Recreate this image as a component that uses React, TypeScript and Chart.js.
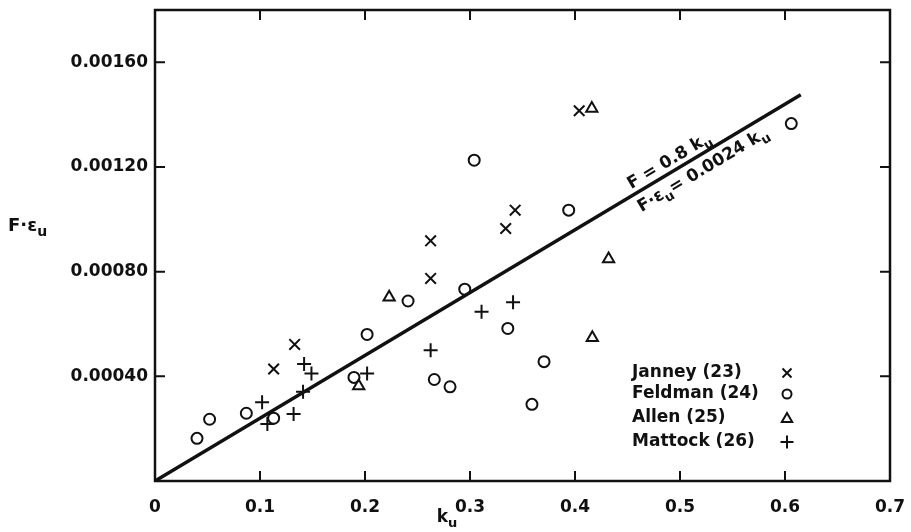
import React, { useEffect, useRef } from 'react';
import { Chart, registerables } from 'chart.js';

Chart.register(...registerables);

// ---- data ----
const xTickValues = [0, 0.1, 0.2, 0.3, 0.4, 0.5, 0.6, 0.7];
const yTickValues = [0.0004, 0.0008, 0.0012, 0.0016];

const janneyKu = [0.113, 0.133, 0.2625, 0.2625, 0.334, 0.343, 0.404];
const janneyFe = [0.000428, 0.000522, 0.000918, 0.000774, 0.000965, 0.001035, 0.001415];

const feldmanKu = [0.040, 0.052, 0.087, 0.113, 0.1895, 0.202, 0.241, 0.266, 0.281, 0.295, 0.304, 0.336, 0.359, 0.3705, 0.394, 0.606];
const feldmanFe = [0.000163, 0.000236, 0.000259, 0.000240, 0.000396, 0.000560, 0.000688, 0.000388, 0.000360, 0.000733, 0.001226, 0.000583, 0.000293, 0.000456, 0.001035, 0.001366];

const allenKu = [0.194, 0.223, 0.416, 0.4165, 0.432];
const allenFe = [0.000363, 0.000702, 0.001424, 0.000547, 0.000848];

const mattockKu = [0.102, 0.107, 0.132, 0.141, 0.142, 0.149, 0.202, 0.2625, 0.311, 0.341];
const mattockFe = [0.000301, 0.000218, 0.000256, 0.000341, 0.000447, 0.000411, 0.000411, 0.000500, 0.000647, 0.000683];

const lineKu = [0, 0.615];
const lineFe = [0, 0.001476];

const legendLabels = ['Janney (23)', 'Feldman (24)', 'Allen (25)', 'Mattock (26)'];
const legendStyles = ['crossRot', 'circle', 'triangle', 'cross'];

const FONT = '"DejaVu Sans", sans-serif';
const INK = '#111';

const pts = (xs: number[], ys: number[]) => xs.map((x, i) => ({ x, y: ys[i] }));

type Part = { t: string; sub?: boolean };

function drawRich(ctx: CanvasRenderingContext2D, parts: Part[], x: number, y: number, size: number, align: 'left' | 'center' = 'center') {
  const big = `bold ${size}px ${FONT}`;
  const small = `bold ${Math.round(size * 0.78)}px ${FONT}`;
  let w = 0;
  for (const p of parts) {
    ctx.font = p.sub ? small : big;
    w += ctx.measureText(p.t).width;
  }
  let cx = align === 'center' ? x - w / 2 : x;
  ctx.textAlign = 'left';
  ctx.textBaseline = 'alphabetic';
  for (const p of parts) {
    ctx.font = p.sub ? small : big;
    ctx.fillText(p.t, cx, y + (p.sub ? size * 0.3 : 0));
    cx += ctx.measureText(p.t).width;
  }
}

function drawMarker(ctx: CanvasRenderingContext2D, style: string, x: number, y: number) {
  ctx.beginPath();
  if (style === 'crossRot') {
    const r = 4.5;
    ctx.moveTo(x - r, y - r); ctx.lineTo(x + r, y + r);
    ctx.moveTo(x + r, y - r); ctx.lineTo(x - r, y + r);
  } else if (style === 'circle') {
    ctx.arc(x, y, 4.5, 0, Math.PI * 2);
  } else if (style === 'triangle') {
    ctx.moveTo(x, y - 5); ctx.lineTo(x + 5.2, y + 4); ctx.lineTo(x - 5.2, y + 4); ctx.closePath();
  } else {
    const r = 6.5;
    ctx.moveTo(x - r, y); ctx.lineTo(x + r, y);
    ctx.moveTo(x, y - r); ctx.lineTo(x, y + r);
  }
  ctx.stroke();
}

const framePlugin = {
  id: 'frameAndNotes',
  afterDraw(chart: any) {
    const { ctx, chartArea: a, scales } = chart;
    const xs = scales.x, ys = scales.y;
    ctx.save();
    ctx.strokeStyle = INK;
    ctx.fillStyle = INK;
    // frame
    ctx.lineWidth = 2.5;
    ctx.strokeRect(a.left, a.top, a.right - a.left, a.bottom - a.top);
    // inward ticks
    ctx.lineWidth = 2;
    const tl = 10;
    ctx.beginPath();
    for (const v of xTickValues) {
      if (v <= 0 || v >= 0.7) continue;
      const px = xs.getPixelForValue(v);
      ctx.moveTo(px, a.bottom); ctx.lineTo(px, a.bottom - tl);
      ctx.moveTo(px, a.top); ctx.lineTo(px, a.top + tl);
    }
    for (const v of yTickValues) {
      const py = ys.getPixelForValue(v);
      ctx.moveTo(a.left, py); ctx.lineTo(a.left + tl, py);
      ctx.moveTo(a.right, py); ctx.lineTo(a.right - tl, py);
    }
    ctx.stroke();

    // axis titles
    drawRich(ctx, [{ t: 'k' }, { t: 'u', sub: true }], 447, 522, 17);
    drawRich(ctx, [{ t: 'F·ε' }, { t: 'u', sub: true }], 8, 231, 18, 'left');

    // equation labels along the line
    const x0 = xs.getPixelForValue(lineKu[0]), y0 = ys.getPixelForValue(lineFe[0]);
    const x1 = xs.getPixelForValue(lineKu[1]), y1 = ys.getPixelForValue(lineFe[1]);
    const ang = Math.atan2(y1 - y0, x1 - x0);
    const onLine = (k: number) => {
      const t = (k - lineKu[0]) / (lineKu[1] - lineKu[0]);
      return [x0 + (x1 - x0) * t, y0 + (y1 - y0) * t];
    };
    let [ax, ay] = onLine(0.495);
    ctx.save();
    ctx.translate(ax, ay); ctx.rotate(ang);
    drawRich(ctx, [{ t: 'F = 0.8 k' }, { t: 'u', sub: true }], 0, -6, 17);
    ctx.restore();
    [ax, ay] = onLine(0.515);
    ctx.save();
    ctx.translate(ax, ay); ctx.rotate(ang);
    drawRich(ctx, [{ t: 'F·ε' }, { t: 'u', sub: true }, { t: '= 0.0024 k' }, { t: 'u', sub: true }], 0, 19, 17);
    ctx.restore();

    // legend
    const rowsY = [373, 394, 418, 442];
    ctx.lineWidth = 2;
    legendLabels.forEach((lab, i) => {
      ctx.font = `bold 17px ${FONT}`;
      ctx.textAlign = 'left';
      ctx.textBaseline = 'middle';
      ctx.fillText(lab, 632, rowsY[i]);
      drawMarker(ctx, legendStyles[i], 787, rowsY[i]);
    });
    ctx.restore();
  },
};

const noPad = (s: any) => { s.paddingLeft = 0; s.paddingRight = 0; s.paddingTop = 0; s.paddingBottom = 0; };

export default function App() {
  const ref = useRef<HTMLCanvasElement | null>(null);
  useEffect(() => {
    if (!ref.current) return;
    const common = { showLine: false, borderColor: INK, backgroundColor: 'rgba(0,0,0,0)', borderWidth: 2 };
    const chart = new Chart(ref.current, {
      type: 'scatter',
      data: {
        datasets: [
          { label: 'line', data: pts(lineKu, lineFe), showLine: true, borderColor: INK, borderWidth: 3.5, pointRadius: 0, fill: false } as any,
          { ...common, label: legendLabels[0], data: pts(janneyKu, janneyFe), pointStyle: 'crossRot', pointRadius: 7.5 },
          { ...common, label: legendLabels[1], data: pts(feldmanKu, feldmanFe), pointStyle: 'circle', pointRadius: 5.5 },
          { ...common, label: legendLabels[2], data: pts(allenKu, allenFe), pointStyle: 'triangle', pointRadius: 6.5 },
          { ...common, label: legendLabels[3], data: pts(mattockKu, mattockFe), pointStyle: 'cross', pointRadius: 7 },
        ],
      },
      options: {
        animation: false,
        responsive: true,
        maintainAspectRatio: false,
        layout: { padding: { left: 0, top: 10, right: 21, bottom: 0 } },
        plugins: { legend: { display: false }, tooltip: { enabled: false } },
        scales: {
          x: {
            type: 'linear', min: 0, max: 0.7,
            grid: { display: false, drawTicks: false },
            border: { display: false },
            afterBuildTicks: (s: any) => { s.ticks = xTickValues.map((v) => ({ value: v })); },
            afterFit: (s: any) => { s.height = 51; noPad(s); },
            ticks: {
              padding: 16, color: INK, font: { family: FONT, size: 17, weight: 'bold' }, maxRotation: 0, autoSkip: false,
              callback: (v: any) => (Number(v) === 0 ? '0' : Number(v).toFixed(1)),
            },
          },
          y: {
            type: 'linear', min: 0, max: 0.0018,
            grid: { display: false, drawTicks: false },
            border: { display: false },
            afterBuildTicks: (s: any) => { s.ticks = yTickValues.map((v) => ({ value: v })); },
            afterFit: (s: any) => { s.width = 155; noPad(s); },
            ticks: {
              padding: 7, color: INK, font: { family: FONT, size: 17, weight: 'bold' }, autoSkip: false,
              callback: (v: any) => Number(v).toFixed(5),
            },
          },
        },
      },
      plugins: [framePlugin],
    } as any);
    return () => chart.destroy();
  }, []);
  return (
    <div style={{ position: 'fixed', left: 0, top: 0, width: 911, height: 532, background: '#fff' }}>
      <canvas ref={ref} />
    </div>
  );
}
